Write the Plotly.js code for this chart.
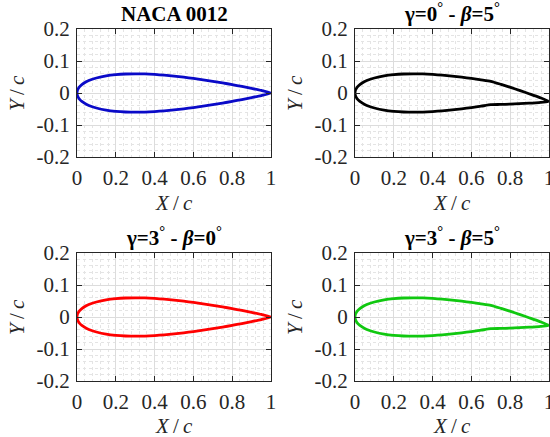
<!DOCTYPE html>
<html><head><meta charset="utf-8">
<script src="https://cdn.plot.ly/plotly-3.0.1.min.js"></script>
<style>html,body{margin:0;padding:0;background:#fff}#chart{width:550px;height:437px}</style>
</head><body><div id="chart"></div>
<script>
// NACA 0012 stations (trailing edge -> leading edge) and half-thickness
const stations   = [1, 0.95, 0.9, 0.85, 0.8, 0.75, 0.7, 0.65, 0.6, 0.55, 0.5, 0.45, 0.4, 0.35, 0.3, 0.25, 0.2, 0.15, 0.1, 0.075, 0.05, 0.025, 0.0125, 0.005, 0.002, 0];
const nacaUpperY = [0, 0.0081, 0.0145, 0.0205, 0.0262, 0.0316, 0.0366, 0.0413, 0.0456, 0.0495, 0.0529, 0.0558, 0.0580, 0.0595, 0.0600, 0.0594, 0.0574, 0.0535, 0.0468, 0.0420, 0.0356, 0.0262, 0.0189, 0.0122, 0.0078, 0];
const nacaLowerY = [0, -0.0081, -0.0145, -0.0205, -0.0262, -0.0316, -0.0366, -0.0413, -0.0456, -0.0495, -0.0529, -0.0558, -0.0580, -0.0595, -0.0600, -0.0594, -0.0574, -0.0535, -0.0468, -0.0420, -0.0356, -0.0262, -0.0189, -0.0122, -0.0078, 0];

// Airfoil with deflected flap (beta = 5 deg, hinge at 0.7)
const flapUpperX = [0.9989, 0.9498, 0.9005, 0.8512, 0.8019, 0.7526, 0.7, 0.65, 0.6, 0.55, 0.5, 0.45, 0.4, 0.35, 0.3, 0.25, 0.2, 0.15, 0.1, 0.075, 0.05, 0.025, 0.0125, 0.005, 0.002, 0];
const flapUpperY = [-0.0262, -0.0138, -0.0030, 0.0074, 0.0174, 0.0271, 0.0366, 0.0413, 0.0456, 0.0495, 0.0529, 0.0558, 0.0580, 0.0595, 0.0600, 0.0594, 0.0574, 0.0535, 0.0468, 0.0420, 0.0356, 0.0262, 0.0189, 0.0122, 0.0078, 0];
const flapLowerX = [0.9989, 0.9483, 0.8980, 0.8476, 0.7973, 0.7471, 0.7, 0.65, 0.6, 0.55, 0.5, 0.45, 0.4, 0.35, 0.3, 0.25, 0.2, 0.15, 0.1, 0.075, 0.05, 0.025, 0.0125, 0.005, 0.002, 0];
const flapLowerY = [-0.0262, -0.0298, -0.0319, -0.0335, -0.0349, -0.0358, -0.0366, -0.0413, -0.0456, -0.0495, -0.0529, -0.0558, -0.0580, -0.0595, -0.0600, -0.0594, -0.0574, -0.0535, -0.0468, -0.0420, -0.0356, -0.0262, -0.0189, -0.0122, -0.0078, 0];

const panelTitles = ['NACA 0012', '\u03b3=0<sup>\u00b0</sup> - <i>\u03b2</i>=5<sup>\u00b0</sup>', '\u03b3=3<sup>\u00b0</sup> - <i>\u03b2</i>=0<sup>\u00b0</sup>', '\u03b3=3<sup>\u00b0</sup> - <i>\u03b2</i>=5<sup>\u00b0</sup>'];
const panelColors = ['#0a0ac8', '#000000', '#ff0000', '#10c810'];
const xTickVals = [0, 0.2, 0.4, 0.6, 0.8, 1];
const xTickText = ['0', '0.2', '0.4', '0.6', '0.8', '1'];
const yTickVals = [-0.2, -0.1, 0, 0.1, 0.2];
const yTickText = ['-0.2', '-0.1', '0', '0.1', '0.2'];
const xLabel = '<i>X</i>\u2009/\u2009<i>c</i>';
const yLabel = '<i>Y</i>\u2009/\u2009<i>c</i>';

function loop(ux, uy, lx, ly) {
  const x = ux.concat(lx.slice().reverse().slice(1));
  const y = uy.concat(ly.slice().reverse().slice(1));
  return {x, y};
}
const base = loop(stations, nacaUpperY, stations, nacaLowerY);
const flap = loop(flapUpperX, flapUpperY, flapLowerX, flapLowerY);
const shapes = [base, flap, base, flap];

const FONT = 'Liberation Serif, Times New Roman, serif';
const W = 550, H = 437;
const xDom = [[77 / W, 271 / W], [355 / W, 549 / W]];
const yDom = [[1 - 157 / H, 1 - 29 / H], [1 - 381 / H, 1 - 253 / H]];
const xLabelY = [1 - 203 / H, 1 - 426 / H];
const yLabelX = 17 / W, yLabelX2 = 295 / W;

const traces = shapes.map((s, i) => ({
  x: s.x, y: s.y, type: 'scatter', mode: 'lines',
  line: {color: panelColors[i], width: 2.8, shape: 'spline', smoothing: 0.6},
  xaxis: 'x' + (i ? i + 1 : ''), yaxis: 'y' + (i ? i + 1 : ''),
  hoverinfo: 'skip', showlegend: false
}));

const common = {
  showline: true, linecolor: '#262626', linewidth: 1, mirror: 'ticks',
  ticks: 'inside', ticklen: 5, tickcolor: '#262626', tickwidth: 1,
  showgrid: true, gridcolor: '#dcdcdc', gridwidth: 1, zeroline: false,
  tickfont: {family: FONT, size: 21, color: '#262626'},
  fixedrange: true, tickmode: 'array', ticklabeloverflow: 'allow'
};

const layout = {
  width: W, height: H, margin: {l: 0, r: 0, t: 0, b: 0},
  paper_bgcolor: '#fff', plot_bgcolor: '#fff', showlegend: false,
  annotations: []
};
for (let i = 0; i < 4; i++) {
  const col = i % 2, row = Math.floor(i / 2);
  const sfx = i ? String(i + 1) : '';
  layout['xaxis' + sfx] = Object.assign({}, common, {
    domain: xDom[col], range: [0, 1], tickvals: xTickVals, ticktext: xTickText,
    anchor: 'y' + sfx, ticklabelstandoff: 2,
    minor: {tickmode: 'linear', tick0: 0, dtick: 0.04, showgrid: true, gridcolor: '#e4e4e4', griddash: 'dot', gridwidth: 1, ticks: ''}
  });
  layout['yaxis' + sfx] = Object.assign({}, common, {
    domain: yDom[row], range: [-0.2, 0.2], tickvals: yTickVals, ticktext: yTickText,
    anchor: 'x' + sfx, ticklabelstandoff: 2,
    minor: {tickmode: 'linear', tick0: 0, dtick: 0.02, showgrid: true, gridcolor: '#e4e4e4', griddash: 'dot', gridwidth: 1, ticks: ''}
  });
  layout.annotations.push({
    xref: 'paper', yref: 'paper', x: (xDom[col][0] + xDom[col][1]) / 2, y: yDom[row][1],
    xanchor: 'center', yanchor: 'bottom', yshift: 1, showarrow: false,
    text: '<b>' + panelTitles[i] + '</b>', font: {family: FONT, size: 21, color: '#000'}
  });
  layout.annotations.push({
    xref: 'paper', yref: 'paper', x: (xDom[col][0] + xDom[col][1]) / 2, y: xLabelY[row],
    xanchor: 'center', yanchor: 'middle', showarrow: false,
    text: xLabel, font: {family: FONT, size: 21, color: '#262626'}
  });
  layout.annotations.push({
    xref: 'paper', yref: 'paper', x: col ? yLabelX2 : yLabelX, y: (yDom[row][0] + yDom[row][1]) / 2,
    xanchor: 'center', yanchor: 'middle', textangle: -90, showarrow: false,
    text: yLabel, font: {family: FONT, size: 21, color: '#262626'}
  });
}

Plotly.newPlot('chart', traces, layout, {staticPlot: true, displayModeBar: false});
</script></body></html>
